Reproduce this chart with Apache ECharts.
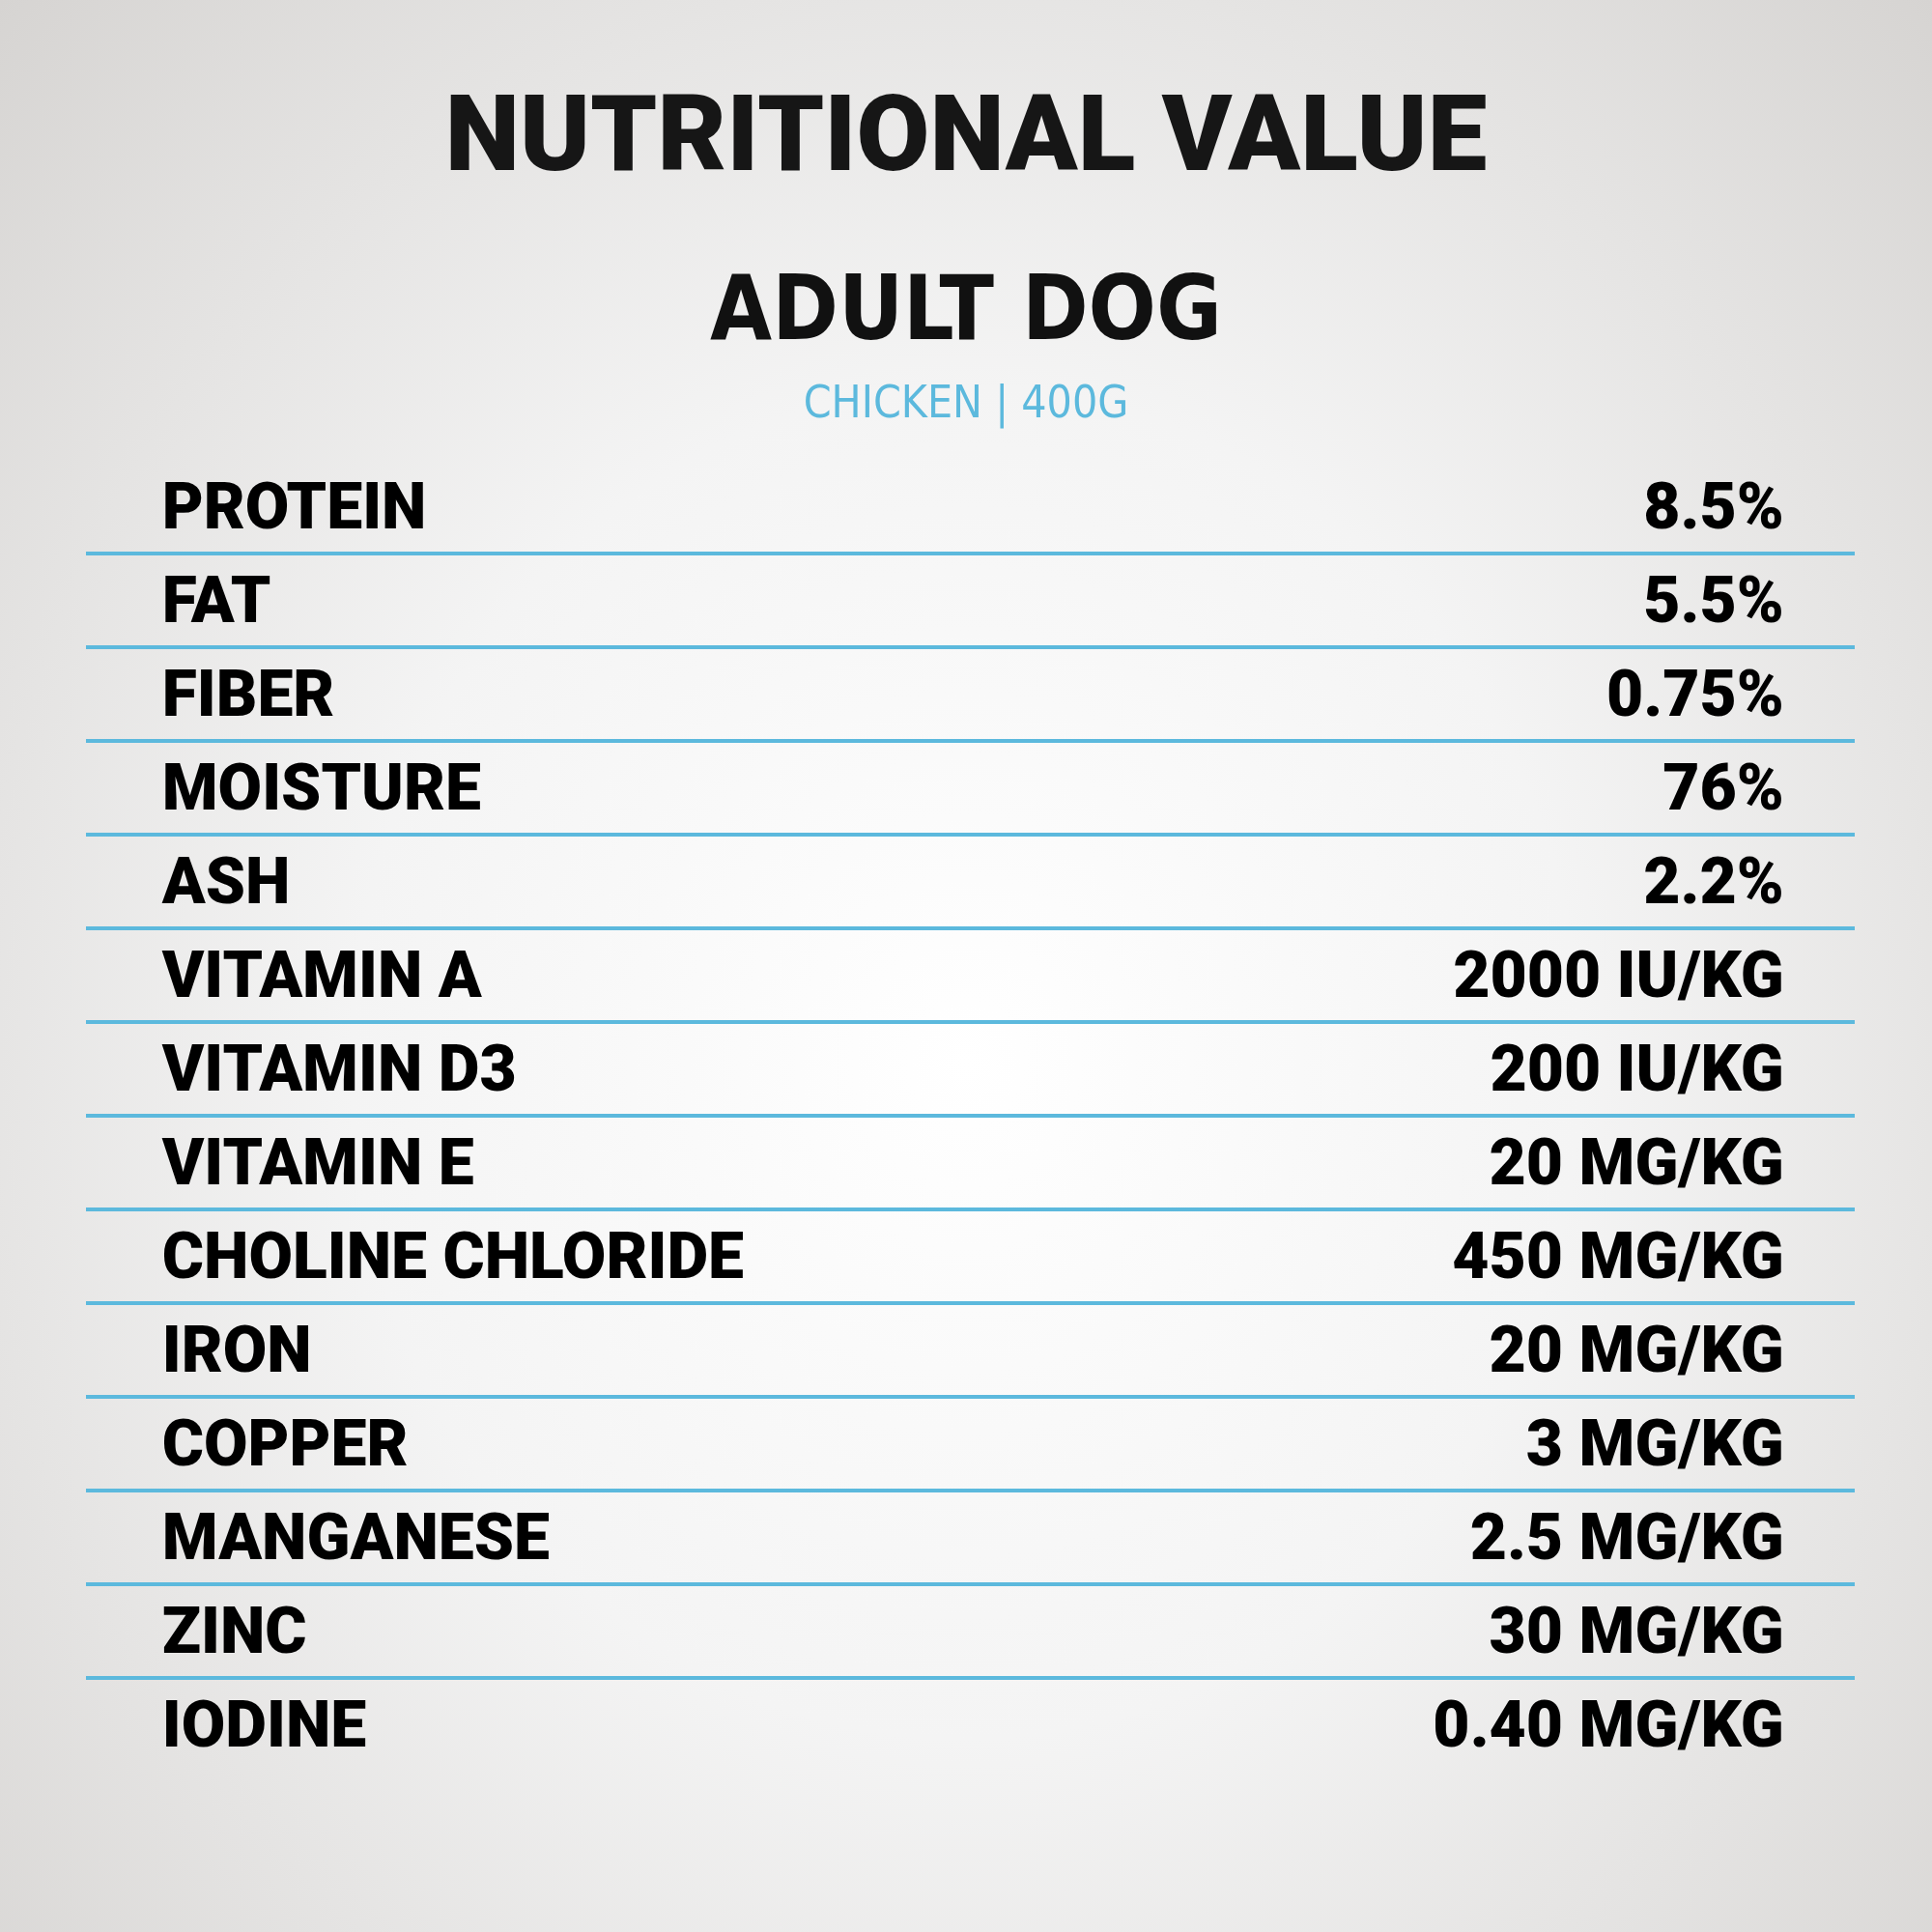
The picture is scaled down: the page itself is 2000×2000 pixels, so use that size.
<!DOCTYPE html>
<html>
<head>
<meta charset="utf-8">
<script src="https://cdn.jsdelivr.net/npm/echarts@6/dist/echarts.min.js"></script>
<style>
html,body{margin:0;padding:0;}
#chart{width:2000px;height:2000px;background:radial-gradient(ellipse at 50% 55%,#ffffff 0%,#f4f4f4 45%,#d6d4d2 100%);}
</style>
</head>
<body>
<div id="chart"></div>
<script>
// rows of the table
var nutrients = ['PROTEIN','FAT','FIBER','MOISTURE','ASH','VITAMIN A','VITAMIN D3','VITAMIN E',
	'CHOLINE CHLORIDE','IRON','COPPER','MANGANESE','ZINC','IODINE'];
var amounts = ['8.5%','5.5%','0.75%','76%','2.2%','2000 IU/KG','200 IU/KG','20 MG/KG',
	'450 MG/KG','20 MG/KG','3 MG/KG','2.5 MG/KG','30 MG/KG','0.40 MG/KG'];
var titleText = 'NUTRITIONAL VALUE';
var productText = 'ADULT DOG';
var variantText = 'CHICKEN | 400G';

var blue = '#5cb9dd';
var font = 'Roboto';

var myChart = echarts.init(document.getElementById('chart'));

var nameData = nutrients.map(function(n, i){ return {value:[0.043, i + 0.5], label:{formatter:n}}; });
var amountData = amounts.map(function(a, i){ return {value:[0.96, i + 0.5], label:{formatter:a}}; });
var dividers = [];
for (var i = 1; i < nutrients.length; i++) {
	dividers.push({yAxis: i});
}

var option = {
	title: [
		{text:titleText, left:'center', top:88, textStyle:{color:'#161616', fontFamily:font, fontWeight:900, fontSize:110}},
		{text:productText, left:'center', top:276, textStyle:{color:'#111', fontFamily:'DejaVu Sans Condensed', fontWeight:'bold', fontSize:92}},
		{text:variantText, left:'center', top:392, textStyle:{color:blue, fontFamily:'DejaVu Sans Condensed', fontWeight:'normal', fontSize:46}}
	],
	grid: {left:89, right:80, top:476, bottom:2000 - 476 - 14 * 97},
	xAxis: {type:'value', min:0, max:1, show:false},
	yAxis: {type:'value', min:0, max:14, inverse:true, show:false},
	series: [
		{
			type:'scatter', symbolSize:0, data:nameData, itemStyle:{opacity:1},
			label:{show:true, position:'right', distance:0, offset:[0,6], color:'#000', fontFamily:font, fontWeight:900, fontSize:66},
			markLine:{
				silent:true, symbol:'none', label:{show:false},
				lineStyle:{color:blue, width:4, type:'solid', opacity:1},
				data:dividers
			}
		},
		{
			type:'scatter', symbolSize:0, data:amountData, itemStyle:{opacity:1},
			label:{show:true, position:'left', distance:0, offset:[0,6], color:'#000', fontFamily:font, fontWeight:900, fontSize:66}
		}
	]
};
myChart.setOption(option);
</script>
</body>
</html>
